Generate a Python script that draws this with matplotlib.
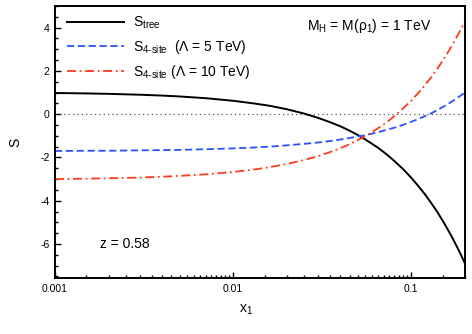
import numpy as np
import matplotlib
matplotlib.use("Agg")
import matplotlib.pyplot as plt
from matplotlib.ticker import LogLocator, FixedLocator, FixedFormatter, NullFormatter, MultipleLocator

plt.rcParams["font.family"] = ["Liberation Sans", "DejaVu Sans"]
plt.rcParams["mathtext.fontset"] = "custom"
plt.rcParams["mathtext.rm"] = "Liberation Sans"
plt.rcParams["axes.unicode_minus"] = False

# values
x1 = [0.001, 0.0015, 0.002, 0.003, 0.004, 0.005, 0.007, 0.01, 0.013, 0.016,
      0.02, 0.025, 0.03, 0.035, 0.04, 0.045, 0.05, 0.055, 0.06, 0.065,
      0.07, 0.075, 0.08, 0.09, 0.1, 0.11, 0.12, 0.13, 0.14, 0.15,
      0.16, 0.17, 0.18, 0.19, 0.2]
s_tree = [0.98, 0.96, 0.94, 0.90, 0.86, 0.82, 0.74, 0.62, 0.50, 0.39,
          0.23, 0.03, -0.17, -0.37, -0.56, -0.76, -0.96, -1.16, -1.36, -1.55,
          -1.75, -1.95, -2.15, -2.54, -2.94, -3.34, -3.73, -4.13, -4.52, -4.92,
          -5.32, -5.71, -6.11, -6.50, -6.90]
s_4site_5 = [-1.70, -1.69, -1.69, -1.67, -1.66, -1.65, -1.62, -1.58, -1.54, -1.50,
             -1.44, -1.37, -1.31, -1.24, -1.17, -1.10, -1.03, -0.97, -0.90, -0.83,
             -0.76, -0.69, -0.63, -0.49, -0.35, -0.22, -0.08, 0.05, 0.19, 0.33,
             0.46, 0.60, 0.73, 0.87, 1.01]
s_4site_10 = [-3.00, -2.98, -2.96, -2.93, -2.89, -2.85, -2.78, -2.67, -2.56, -2.45,
              -2.30, -2.12, -1.94, -1.75, -1.57, -1.39, -1.20, -1.02, -0.84, -0.65,
              -0.47, -0.29, -0.10, 0.27, 0.63, 1.00, 1.37, 1.73, 2.10, 2.47,
              2.84, 3.20, 3.57, 3.94, 4.30]

x_major = [0.001, 0.01, 0.1]
x_major_labels = ["0.001", "0.01", "0.1"]
y_major = [-6, -4, -2, 0, 2, 4]
y_major_labels = ["-6", "-4", "-2", "0", "2", "4"]

fig = plt.figure(figsize=(4.72, 3.34), dpi=100)
ax = fig.add_axes([0.1165, 0.1677, 0.8685, 0.8143])

ax.axhline(0, color="#555555", lw=0.9, ls=(0, (1, 2.5)))
ax.plot(x1, s_tree, color="black", lw=1.4, label=r"S$_\mathregular{tree}$")
ax.plot(x1, s_4site_5, color="#2a52ff", lw=1.3, ls=(0, (4, 2)),
        label=r"S$_\mathregular{4\text{-}site}$  (Λ = 5 TeV)")
ax.plot(x1, s_4site_10, color="#ff3b1e", lw=1.3, ls=(0, (5, 2, 1, 2)),
        label=r"S$_\mathregular{4\text{-}site}$ (Λ = 10 TeV)")

ax.set_xscale("log")
ax.set_xlim(0.001, 0.2)
ax.set_ylim(-7.57, 5)

ax.xaxis.set_major_locator(FixedLocator(x_major))
ax.xaxis.set_major_formatter(FixedFormatter(x_major_labels))
ax.xaxis.set_minor_locator(LogLocator(base=10, subs=np.arange(1.5, 10, 0.5)))
ax.xaxis.set_minor_formatter(NullFormatter())
ax.yaxis.set_major_locator(FixedLocator(y_major))
ax.yaxis.set_major_formatter(FixedFormatter(y_major_labels))
ax.yaxis.set_minor_locator(MultipleLocator(0.5))

ax.tick_params(which="both", direction="in", top=False, right=False, labelsize=7.5, width=1)
ax.tick_params(which="major", length=4.5, pad=4)
ax.tick_params(which="minor", length=2.5)
for sp in ax.spines.values():
    sp.set_linewidth(1.4)

ax.set_xlabel(r"x$_\mathregular{1}$", fontsize=10)
ax.xaxis.set_label_coords(0.466, -0.09)
ax.set_ylabel("S", fontsize=10)
ax.yaxis.set_label_coords(-0.08, 0.5)

ax.legend(loc="upper left", bbox_to_anchor=(0.03, 0.968), frameon=False, fontsize=10,
          handlelength=4.1, handletextpad=0.6, labelspacing=0.5, borderpad=0, borderaxespad=0)

ax.text(0.615, 0.925, r"M$_\mathregular{H}$ = M(ρ$_\mathregular{1}$) = 1 TeV", transform=ax.transAxes,
        fontsize=10, va="center", ha="left")
ax.text(0.11, 0.125, "z = 0.58", transform=ax.transAxes, fontsize=10, va="center", ha="left")

fig.savefig("out.png", dpi=100)
